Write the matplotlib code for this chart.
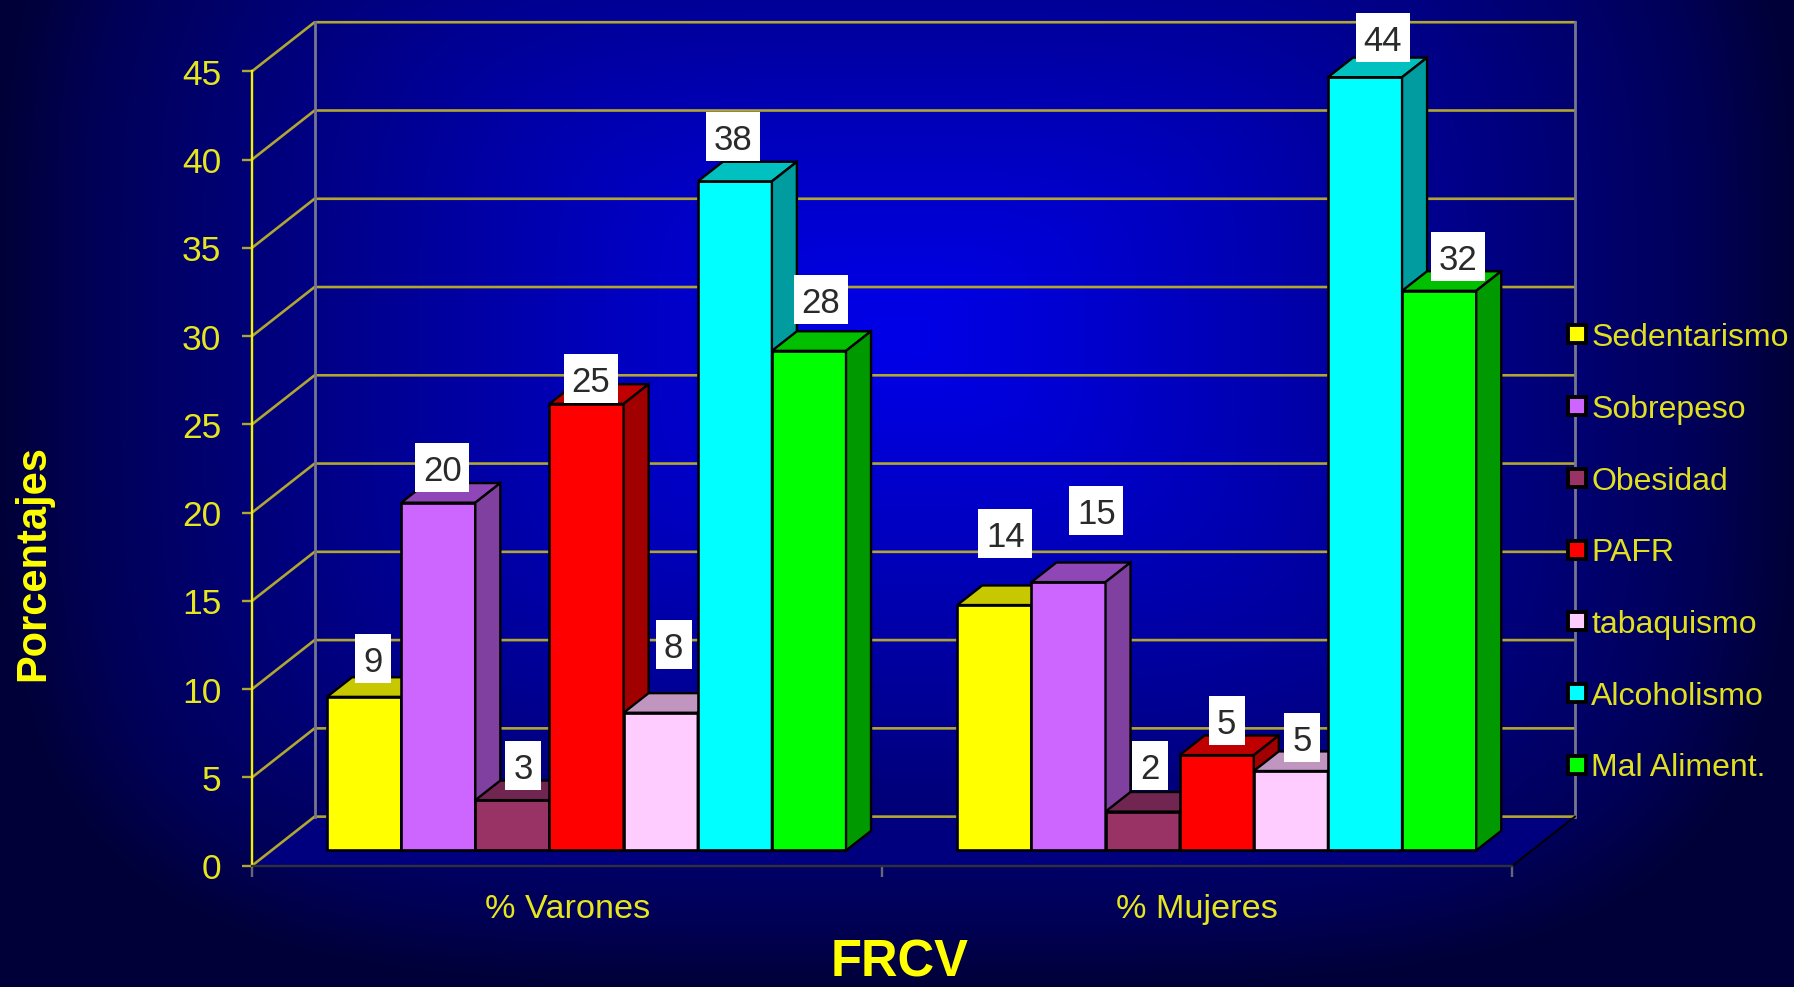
import numpy as np
import matplotlib
matplotlib.use('Agg')
from matplotlib import pyplot as plt
from matplotlib.lines import Line2D
from matplotlib.patches import Rectangle
from matplotlib.transforms import IdentityTransform

plt.rcParams['font.family'] = ['Liberation Sans', 'DejaVu Sans']

groups = ['% Varones', '% Mujeres']
factors = ['Sedentarismo', 'Sobrepeso', 'Obesidad', 'PAFR', 'tabaquismo', 'Alcoholismo', 'Mal Aliment.']
varones = [8.7, 19.7, 2.85, 25.3, 7.8, 37.9, 28.3]
mujeres = [13.9, 15.2, 2.2, 5.4, 4.5, 43.8, 31.7]
varones_text = ['9', '20', '3', '25', '8', '38', '28']
mujeres_text = ['14', '15', '2', '5', '5', '44', '32']
colors = ['#FFFF00', '#CC66FF', '#993366', '#FF0000', '#FFCCFF', '#00FFFF', '#00FF00']
tops = ['#C8C800', '#8F47B8', '#702650', '#C00000', '#C096C0', '#00C0C0', '#00C000']
sides = ['#A0A000', '#8040A0', '#602040', '#A00000', '#A080A0', '#009CA0', '#009900']
yticks = [0, 5, 10, 15, 20, 25, 30, 35, 40, 45]

# label boxes were moved by hand in the original, offsets in pixels from the bar top
varones_off = [(9, 38), (4, 35), (11, 35), (4, 25), (13, 68), (-2, 45), (12, 51)]
mujeres_off = [(11, 72), (28, 72), (7, 46), (10, 35), (11, 34), (18, 40), (19, 34)]

W, H = 1794, 987
YELLOW = '#E6E61E'
GRID = '#B0A630'
GRAY = '#77778C'

# the +0.5 keeps savefig from rounding the height down to 986
fig = plt.figure(figsize=((W + 0.5) / 100, (H + 0.5) / 100), dpi=100)

# background: rectangular path gradient
bg = fig.add_axes([0, 0, 1, 1], zorder=0)
xx, yy = np.meshgrid(np.linspace(-1, 1, 450), np.linspace(0, 1, 250))
cy = 0.34
v = np.where(yy < cy, (yy - cy) / cy * 0.55, (yy - cy) / (1 - cy))
t = np.clip((np.abs(xx) ** 4 + np.abs(v) ** 4) ** 0.25, 0, 1)
rgb = np.zeros(t.shape + (3,))
rgb[..., 2] = (232 - 165 * t ** 1.2) / 255
rgb[..., 2] = np.where(t > 0.9, rgb[..., 2] - (t - 0.9) * 0.4, rgb[..., 2])
bg.imshow(rgb, extent=[0, 1, 0, 1], origin='upper', aspect='auto', interpolation='bicubic')
bg.axis('off')

ax = fig.add_axes([252 / W, 1 - 865.7 / H, 1260 / W, 794 / H], zorder=1)
ax.patch.set_visible(False)
ax.set_xlim(0, 2)
ax.set_ylim(0, 45)

DX = 62.5 / 630
DY = 49 / 17.65
front = 0.31
deep = 0.40
bar_w = 1 / 8.5

# floor and walls
ax.fill([0, 2, 2 + DX, DX], [0, 0, DY, DY], color='#00007E', zorder=1, clip_on=False, lw=0)
for y in yticks:
    ax.plot([0, DX, 2 + DX], [y, y + DY, y + DY], color=GRID, lw=1.9, zorder=2, clip_on=False)
ax.plot([DX, DX], [DY, 45 + DY], color=GRAY, lw=2, zorder=2, clip_on=False)
ax.plot([2 + DX, 2 + DX], [DY, 45 + DY], color=GRAY, lw=2, zorder=2, clip_on=False)
ax.plot([2, 2 + DX], [0, DY], color='black', lw=1.4, zorder=2, clip_on=False)

x_shift = front * DX
y_shift = front * DY
dx = deep * DX
dy = deep * DY
bar_tops = []
for g, vals in enumerate([varones, mujeres]):
    start = g + 0.5 - 3.5 * bar_w
    for i, val in enumerate(vals):
        left = start + i * bar_w + x_shift
        right = left + bar_w
        ytop = val + y_shift
        z = 5 + g * 10 + i
        ax.bar(left, val, width=bar_w, bottom=y_shift, align='edge', color=colors[i],
               edgecolor='black', lw=1.9, zorder=z, clip_on=False)
        ax.fill([left, left + dx, right + dx, right], [ytop, ytop + dy, ytop + dy, ytop],
                facecolor=tops[i], edgecolor='black', lw=1.7, zorder=z, clip_on=False)
        ax.fill([right, right + dx, right + dx, right], [y_shift, y_shift + dy, ytop + dy, ytop],
                facecolor=sides[i], edgecolor='black', lw=1.7, zorder=z, clip_on=False)
        bar_tops.append((left + bar_w / 2, ytop))

# axes
for s in ['top', 'right']:
    ax.spines[s].set_visible(False)
ax.spines['left'].set_color('#F0F000')
ax.spines['left'].set_linewidth(1.7)
ax.spines['bottom'].set_color('#30303A')
ax.spines['bottom'].set_linewidth(1.7)
ax.set_yticks(yticks)
ax.tick_params(axis='y', colors=GRID, labelcolor=YELLOW, labelsize=25.5, length=7, width=1.7, pad=15)
ax.set_xticks([0, 1, 2])
ax.set_xticklabels([])
ax.tick_params(axis='x', which='major', color='#66667A', length=8, width=1.7)
ax.set_xticks([0.5, 1.5], minor=True)
ax.set_xticklabels(groups, minor=True)
ax.tick_params(axis='x', which='minor', length=0, labelcolor=YELLOW, labelsize=24.7, pad=20)

fig.text(33 / W, 1 - 563 / H, 'Porcentajes', rotation=90, color='#FFFF00', fontsize=30,
         fontweight='bold', ha='center', va='center')
fig.text(899 / W, 1 - 963 / H, 'FRCV', color='#FFFF00', fontsize=36.5,
         fontweight='bold', ha='center', va='center')

# data labels
fig.canvas.draw()
texts = varones_text + mujeres_text
offsets = varones_off + mujeres_off
for (bx, by), s, (ox, oy) in zip(bar_tops, texts, offsets):
    px, py = ax.transData.transform((bx, by))
    px += ox
    py += oy
    w = 54 if len(s) == 2 else 36
    ax.add_patch(Rectangle((px - w / 2, py - 24.5), w, 49, transform=IdentityTransform(),
                           facecolor='white', edgecolor='none', zorder=40, clip_on=False))
    ax.text(px, py, s, transform=IdentityTransform(), ha='center', va='center_baseline',
            fontsize=25, color='#2A2A2A', zorder=41, clip_on=False)

# legend
handles = [Line2D([], [], ls='', marker='s', ms=13.5, mfc=c, mec='black', mew=2.8) for c in colors]
fig.legend(handles, factors, loc='upper left', bbox_to_anchor=(1561 / W, 1 - 323 / H),
           frameon=False, fontsize=23, labelcolor='#E0E01E', labelspacing=1.305,
           handlelength=1.0, handletextpad=-0.07, borderpad=0, borderaxespad=0)

fig.savefig('out.png', dpi=100)
